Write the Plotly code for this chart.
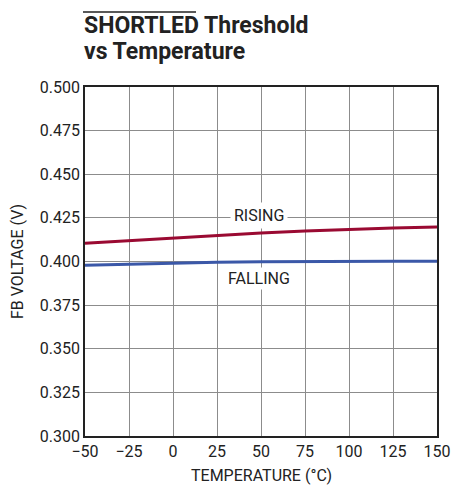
import plotly.graph_objects as go

temps = [-50, -25, 0, 25, 50, 75, 100, 125, 150]
rising = [0.4105, 0.4120, 0.4135, 0.4150, 0.4163, 0.4175, 0.4185, 0.4192, 0.4198]
falling = [0.3978, 0.3985, 0.3991, 0.3996, 0.3999, 0.4001, 0.4002, 0.4002, 0.4002]
x_ticks = [-50, -25, 0, 25, 50, 75, 100, 125, 150]
x_labels = ["\u221250", "\u221225", "0", "25", "50", "75", "100", "125", "150"]
y_ticks = [0.300, 0.325, 0.350, 0.375, 0.400, 0.425, 0.450, 0.475, 0.500]
y_labels = ["%.3f" % v for v in y_ticks]

FONT = "Roboto, Liberation Sans, sans-serif"
TXT = "#222222"
O = 8  # page body margin offset
W, H = 466 - O, 485 - O
L, T = 85 - O, 87 - O
R, B = 466 - 437, 485 - 436
PW, PH = W - L - R, H - T - B


def px(xp):
    return (xp - O - L) / PW


def py(yp):
    return (H - B - (yp - O)) / PH


fig = go.Figure()
fig.add_trace(go.Scatter(x=temps, y=rising, mode="lines", line=dict(color="#9a0a32", width=3), showlegend=False))
fig.add_trace(go.Scatter(x=temps, y=falling, mode="lines", line=dict(color="#3b58a8", width=3), showlegend=False))

fig.add_annotation(x=49, y=0.4266, text="RISING", showarrow=False, bgcolor="white",
                   font=dict(family=FONT, size=16, color=TXT), borderpad=3)
fig.add_annotation(x=49, y=0.3900, text="FALLING", showarrow=False, bgcolor="white",
                   font=dict(family=FONT, size=16, color=TXT), borderpad=1)

# title lines
fig.add_annotation(xref="paper", yref="paper", x=px(82), y=py(26), xanchor="left", yanchor="middle",
                   text="<b>SHORTLED Threshold</b>", showarrow=False,
                   font=dict(family=FONT, size=23, color=TXT))
fig.add_annotation(xref="paper", yref="paper", x=px(82), y=py(52), xanchor="left", yanchor="middle",
                   text="<b>vs Temperature</b>", showarrow=False,
                   font=dict(family=FONT, size=23, color=TXT))
# axis titles
fig.add_annotation(xref="paper", yref="paper", x=px(261), y=py(475), xanchor="center", yanchor="middle",
                   text="TEMPERATURE (°C)", showarrow=False,
                   font=dict(family=FONT, size=16, color=TXT))
fig.add_annotation(xref="paper", yref="paper", x=px(17), y=py(262), xanchor="center", yanchor="middle",
                   text="FB VOLTAGE (V)", showarrow=False, textangle=-90,
                   font=dict(family=FONT, size=16, color=TXT))

fig.update_layout(
    width=W, height=H,
    margin=dict(l=L, r=R, t=T, b=B),
    paper_bgcolor="white", plot_bgcolor="white",
    xaxis=dict(range=[-50, 150], tickvals=x_ticks, ticktext=x_labels, automargin=False,
               showgrid=True, gridcolor="#8c8c8c", gridwidth=1,
               showline=True, linecolor=TXT, linewidth=1.5, mirror=True,
               ticks="", zeroline=False,
               tickfont=dict(family=FONT, size=16, color=TXT)),
    yaxis=dict(range=[0.300, 0.500], tickvals=y_ticks, ticktext=y_labels, automargin=False,
               showgrid=True, gridcolor="#8c8c8c", gridwidth=1,
               showline=True, linecolor=TXT, linewidth=1.5, mirror=True,
               ticks="", zeroline=False,
               tickfont=dict(family=FONT, size=16, color=TXT)),
)

# overline above "SHORTLED"
fig.add_shape(type="line", xref="paper", yref="paper",
              x0=px(83), x1=px(196), y0=py(12), y1=py(12),
              line=dict(color=TXT, width=1.5))

fig.write_html("out.html")
